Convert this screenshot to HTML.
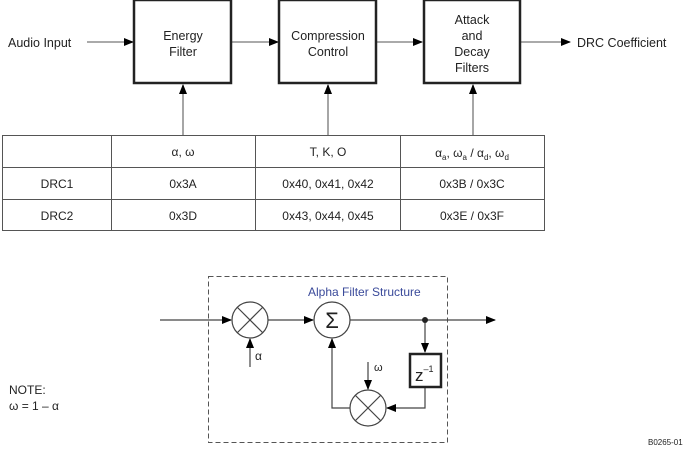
<!DOCTYPE html>
<html><head><style>
html,body{margin:0;padding:0;background:#fff;}
svg{display:block;font-family:"Liberation Sans",sans-serif;}
</style></head><body>
<svg width="683" height="449" viewBox="0 0 683 449" xmlns="http://www.w3.org/2000/svg">
<defs>
<marker id="ah" markerWidth="10" markerHeight="8" refX="9" refY="4" orient="auto" markerUnits="userSpaceOnUse">
<path d="M0,0 L10,4 L0,8 Z" fill="#000"/></marker>
</defs>
<g font-size="12.5" fill="#222">
<text x="8" y="47">Audio Input</text>
<text x="577" y="47">DRC Coefficient</text>
</g>
<g stroke="#777" stroke-width="1.3" fill="none">
<line x1="87" y1="42" x2="133" y2="42" marker-end="url(#ah)"/>
<line x1="232" y1="42" x2="278" y2="42" marker-end="url(#ah)"/>
<line x1="377" y1="42" x2="422" y2="42" marker-end="url(#ah)"/>
<line x1="521" y1="42" x2="570" y2="42" marker-end="url(#ah)"/>
<line x1="183" y1="135" x2="183" y2="85" marker-end="url(#ah)"/>
<line x1="328" y1="135" x2="328" y2="85" marker-end="url(#ah)"/>
<line x1="473" y1="135" x2="473" y2="85" marker-end="url(#ah)"/>
</g>
<g stroke="#222" stroke-width="2.5" fill="#fff">
<rect x="134" y="0" width="97" height="83"/>
<rect x="279" y="0" width="97" height="83"/>
<rect x="424" y="0" width="96" height="83"/>
</g>
<g font-size="12.5" fill="#222" text-anchor="middle">
<text x="183" y="40">Energy</text><text x="183" y="56">Filter</text>
<text x="328" y="40">Compression</text><text x="328" y="56">Control</text>
<text x="472" y="24">Attack</text><text x="472" y="40">and</text><text x="472" y="56">Decay</text><text x="472" y="72">Filters</text>
</g>
<g stroke="#555" stroke-width="1" fill="none">
<rect x="2.5" y="135.5" width="542" height="95"/>
<line x1="2" y1="167.5" x2="545" y2="167.5"/>
<line x1="2" y1="199.5" x2="545" y2="199.5"/>
<line x1="111.5" y1="135" x2="111.5" y2="231"/>
<line x1="255.5" y1="135" x2="255.5" y2="231"/>
<line x1="400.5" y1="135" x2="400.5" y2="231"/>
</g>
<g font-size="12" fill="#222" text-anchor="middle">
<text x="183" y="156">α, ω</text>
<text x="328" y="156">T, K, O</text>
<text x="472" y="157">α<tspan font-size="8" dy="3">a</tspan><tspan dy="-3">, ω</tspan><tspan font-size="8" dy="3">a</tspan><tspan dy="-3"> / α</tspan><tspan font-size="8" dy="3">d</tspan><tspan dy="-3">, ω</tspan><tspan font-size="8" dy="3">d</tspan></text>
<text x="57" y="188">DRC1</text><text x="183" y="188">0x3A</text><text x="328" y="188">0x40, 0x41, 0x42</text><text x="472" y="188">0x3B / 0x3C</text>
<text x="57" y="220">DRC2</text><text x="183" y="220">0x3D</text><text x="328" y="220">0x43, 0x44, 0x45</text><text x="472" y="220">0x3E / 0x3F</text>
</g>
<rect x="208.5" y="276.5" width="239" height="166" fill="none" stroke="#555" stroke-dasharray="5,3"/>
<text x="308" y="296" font-size="12" fill="#3a4a9a">Alpha Filter Structure</text>
<g stroke="#444" stroke-width="1.2" fill="none">
<line x1="160" y1="320" x2="231" y2="320" marker-end="url(#ah)"/>
<line x1="268" y1="320" x2="313" y2="320" marker-end="url(#ah)"/>
<line x1="350" y1="320" x2="495" y2="320" marker-end="url(#ah)"/>
<line x1="250" y1="367" x2="250" y2="339" marker-end="url(#ah)"/>
<line x1="425" y1="320" x2="425" y2="352" marker-end="url(#ah)"/>
<polyline points="425,387 425,408 387,408" marker-end="url(#ah)"/>
<polyline points="350,408 332,408 332,339" marker-end="url(#ah)"/>
<line x1="368" y1="362" x2="368" y2="389" marker-end="url(#ah)"/>
<circle cx="250" cy="320" r="18"/>
<line x1="237" y1="307" x2="263" y2="333"/><line x1="263" y1="307" x2="237" y2="333"/>
<circle cx="332" cy="320" r="18"/>
<circle cx="368" cy="408" r="18"/>
<line x1="355" y1="395" x2="381" y2="421"/><line x1="381" y1="395" x2="355" y2="421"/>
</g>
<circle cx="425" cy="320" r="3" fill="#222"/>
<rect x="410" y="354" width="31" height="33" fill="#fff" stroke="#222" stroke-width="2.5"/>
<text x="332" y="328" font-size="22" text-anchor="middle" fill="#222">Σ</text>
<text x="415" y="381" font-size="17" fill="#222">z<tspan font-size="9" dy="-9">–1</tspan></text>
<text x="255" y="360" font-size="12" fill="#222">α</text>
<text x="374" y="371" font-size="11" fill="#222">ω</text>
<text x="9" y="394" font-size="12" fill="#222">NOTE:</text>
<text x="9" y="410" font-size="12" fill="#222">ω = 1 – α</text>
<text x="648" y="445" font-size="8" fill="#222">B0265-01</text>
</svg>
</body></html>
